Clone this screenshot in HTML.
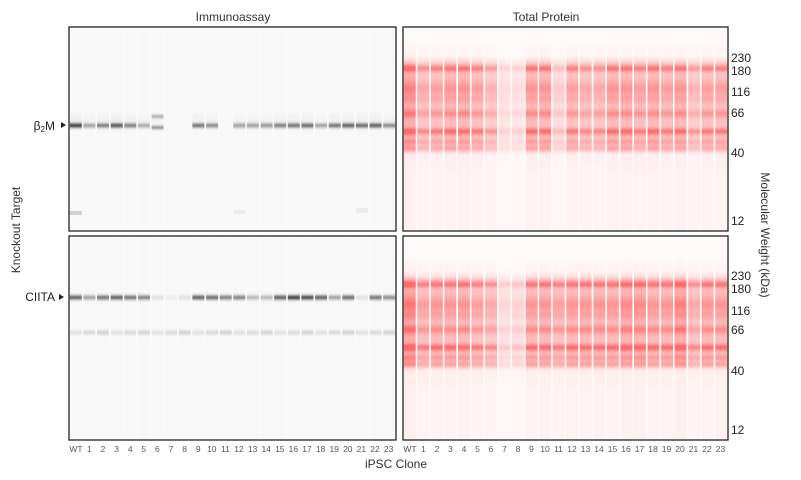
<!DOCTYPE html>
<html><head><meta charset="utf-8">
<style>
body{margin:0;background:#fff;}
svg{display:block;font-family:"Liberation Sans",sans-serif;}
</style></head>
<body>
<svg id="s" width="801" height="480" viewBox="0 0 801 480" xmlns="http://www.w3.org/2000/svg">
<rect width="801" height="480" fill="#fff"/>
<g id="g"></g>
<rect x="69" y="27" width="327" height="204" fill="none" stroke="#222" stroke-width="1.3"/>
<rect x="69" y="236" width="327" height="204" fill="none" stroke="#222" stroke-width="1.3"/>
<rect x="403" y="27" width="325" height="204" fill="none" stroke="#222" stroke-width="1.3"/>
<rect x="403" y="236" width="325" height="204" fill="none" stroke="#222" stroke-width="1.3"/>
<text x="233" y="21" font-size="12" text-anchor="middle" fill="#333">Immunoassay</text>
<text x="546" y="21" font-size="12" text-anchor="middle" fill="#333">Total Protein</text>
<text transform="translate(20,230) rotate(-90)" font-size="12" text-anchor="middle" fill="#333">Knockout Target</text>
<text transform="translate(761,235) rotate(90)" font-size="12" text-anchor="middle" fill="#333">Molecular Weight (kDa)</text>
<text x="396" y="468" font-size="12" text-anchor="middle" fill="#333">iPSC Clone</text>
<text x="55" y="130" font-size="12" text-anchor="end" fill="#222">β<tspan font-size="8" dy="2">2</tspan><tspan dy="-2">M</tspan></text>
<polygon points="61,122 66,125 61,128" fill="#222"/>
<text x="55" y="301" font-size="12" text-anchor="end" fill="#222">CIITA</text>
<polygon points="59,294 64,297 59,300" fill="#222"/>
<g font-size="12" fill="#222">
<text x="731" y="62">230</text><text x="731" y="75">180</text><text x="731" y="96">116</text><text x="731" y="117">66</text><text x="731" y="157">40</text><text x="731" y="225">12</text>
<text x="731" y="280">230</text><text x="731" y="293">180</text><text x="731" y="315">116</text><text x="731" y="334">66</text><text x="731" y="375">40</text><text x="731" y="434">12</text>
</g>
<g font-size="8.5" fill="#555" text-anchor="middle">
<text x="76" y="452">WT</text><text x="89.4" y="452">1</text><text x="103" y="452">2</text><text x="116.6" y="452">3</text><text x="130.2" y="452">4</text><text x="143.8" y="452">5</text><text x="157.4" y="452">6</text><text x="171" y="452">7</text><text x="184.6" y="452">8</text><text x="198.2" y="452">9</text><text x="211.8" y="452">10</text><text x="225.4" y="452">11</text><text x="239" y="452">12</text><text x="252.6" y="452">13</text><text x="266.2" y="452">14</text><text x="279.8" y="452">15</text><text x="293.4" y="452">16</text><text x="307" y="452">17</text><text x="320.6" y="452">18</text><text x="334.2" y="452">19</text><text x="347.8" y="452">20</text><text x="361.4" y="452">21</text><text x="375" y="452">22</text><text x="388.6" y="452">23</text>
<text x="410" y="452">WT</text><text x="423.5" y="452">1</text><text x="437" y="452">2</text><text x="450.5" y="452">3</text><text x="464" y="452">4</text><text x="477.5" y="452">5</text><text x="491" y="452">6</text><text x="504.5" y="452">7</text><text x="518" y="452">8</text><text x="531.5" y="452">9</text><text x="545" y="452">10</text><text x="558.5" y="452">11</text><text x="572" y="452">12</text><text x="585.5" y="452">13</text><text x="599" y="452">14</text><text x="612.5" y="452">15</text><text x="626" y="452">16</text><text x="639.5" y="452">17</text><text x="653" y="452">18</text><text x="666.5" y="452">19</text><text x="680" y="452">20</text><text x="693.5" y="452">21</text><text x="707" y="452">22</text><text x="720.5" y="452">23</text>
</g>
</svg>
<script>
(function(){
var g=document.getElementById('g'),h='';
function r(x,y,w,hh,f,o){h+='<rect x="'+x.toFixed(1)+'" y="'+y+'" width="'+w.toFixed(1)+'" height="'+hh+'" fill="'+f+'" fill-opacity="'+o.toFixed(3)+'"/>';}
function ga(y,c,s,a){return a*Math.exp(-(y-c)*(y-c)/(2*s*s));}
function ss(a,b,x){var t=Math.max(0,Math.min(1,(x-a)/(b-a)));return t*t*(3-2*t);}
r(69,27,327,204,'#fafafa',1);r(69,236,327,204,'#fafafa',1);
r(403,27,325,204,'#fffafa',1);r(403,236,325,204,'#fffafa',1);
var ft=[1.2,0.8,0.9,1,1,0.9,0.7,0.3,0.3,1,1,0.45,0.9,0.8,0.8,1,1,0.9,1,0.9,1,0.7,0.9,0.9];
var fb=[1.3,0.9,1,1,1,0.9,0.8,0.35,0.4,1,1,0.9,1,1,1,1,1.1,1.1,1,1,1.2,0.8,1,1];
var lw=325/24;
function prof(y){var v=0.05*ss(35,55,y)+0.34*ss(55,66,y)*(1-ss(146,156,y));
v+=ga(y,68,2.2,0.45)+ga(y,88,5,0.25)+ga(y,99,3,0.15)+ga(y,113,3,0.3)+ga(y,131,2.3,0.5)+ga(y,141,2,0.2)+ga(y,148,2,0.18);
v+=0.025*(1-ss(156,175,y))*ss(146,156,y);return v;}
[[27,ft,0],[236,fb,7]].forEach(function(p){
for(var i=0;i<24;i++){var x=403+i*lw+0.8,f=p[1][i];
for(var yy=1;yy<203;yy++){var ya=p[0]+yy,yr=yy+27-p[2];var v=prof(yr)*f;if(v<0.015)continue;
r(x,ya,lw-1.6,1,'#ff5a5a',Math.min(0.9,v));}}});
var lw2=327/24;
var t1=[0.85,0.4,0.55,0.75,0.55,0.35,0.5,0,0,0.6,0.5,0,0.4,0.4,0.45,0.55,0.6,0.65,0.4,0.6,0.7,0.65,0.7,0.5];
var t2=[0.7,0.4,0.6,0.7,0.6,0.55,0.1,0.05,0.1,0.7,0.65,0.55,0.55,0.3,0.3,0.7,0.85,0.8,0.7,0.4,0.65,0.1,0.6,0.5];
for(var i=0;i<24;i++){var x=69+i*lw2+0.8,w=lw2-1.6;
r(x,28,w,202,'#000',0.006);r(x,237,w,202,'#000',0.006);
for(var yy=112;yy<140;yy++){var v=ga(yy,125,1.8,t1[i]);if(i==6)v=ga(yy,127,1.5,0.45)+ga(yy,116,1.5,0.3);v+=ga(yy,118,4,t1[i]*0.05);if(v>0.01)r(x,yy,w,1,'#333',Math.min(0.85,v));}
for(var yy=285;yy<345;yy++){var v=ga(yy,297,1.8,t2[i])+ga(yy,332,1.8,0.1+0.04*(i%3));if(v>0.01)r(x,yy,w,1,'#333',Math.min(0.85,v));}
}
r(69+0.8,211,lw2-1.6,4,'#333',0.2);r(69+12*lw2+0.8,210,lw2-1.6,4,'#333',0.06);r(69+21*lw2+0.8,208,lw2-1.6,5,'#333',0.06);
g.innerHTML=h;
})();
</script>
</body></html>
